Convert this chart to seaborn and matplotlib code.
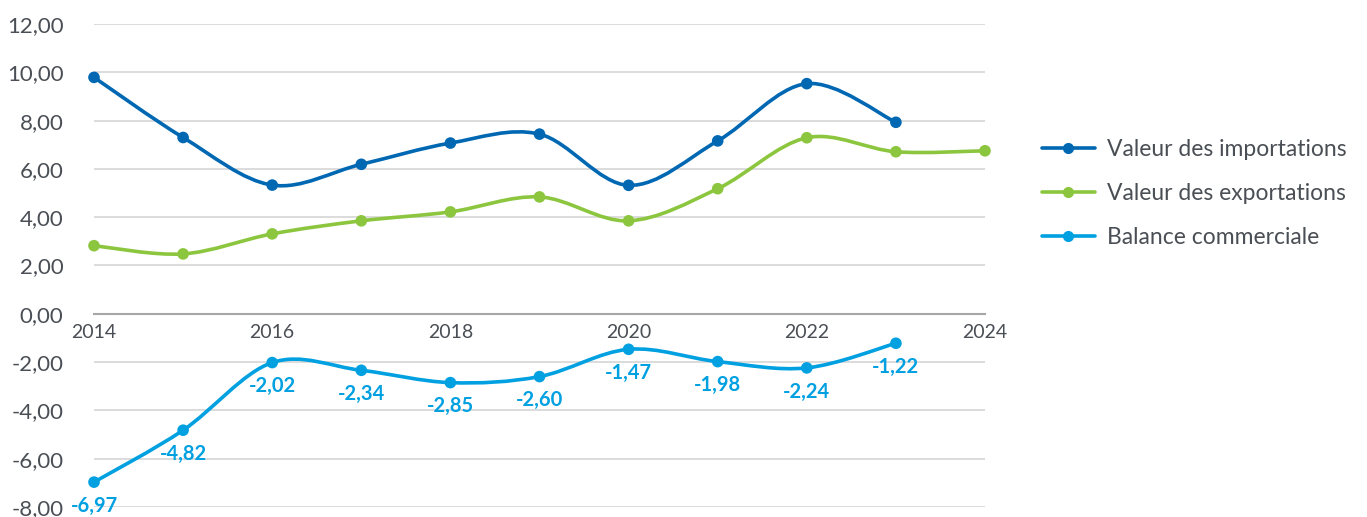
import numpy as np
import pandas as pd
import matplotlib
matplotlib.use("Agg")
import matplotlib.pyplot as plt
from matplotlib.path import Path
from matplotlib.patches import PathPatch
from matplotlib.lines import Line2D
import seaborn as sns

# données (milliards)
years_imp = [2014, 2015, 2016, 2017, 2018, 2019, 2020, 2021, 2022, 2023]
importations = [9.79, 7.30, 5.33, 6.19, 7.07, 7.44, 5.32, 7.16, 9.53, 7.93]
years_exp = [2014, 2015, 2016, 2017, 2018, 2019, 2020, 2021, 2022, 2023, 2024]
exportations = [2.82, 2.48, 3.31, 3.85, 4.22, 4.84, 3.85, 5.18, 7.29, 6.71, 6.75]
years_bal = [2014, 2015, 2016, 2017, 2018, 2019, 2020, 2021, 2022, 2023]
balance = [-6.97, -4.82, -2.02, -2.34, -2.85, -2.60, -1.47, -1.98, -2.24, -1.22]

series_names = ["Valeur des importations", "Valeur des exportations", "Balance commerciale"]
colors = ["#0068b3", "#8cc63f", "#00a0e1"]
y_ticks = [-8, -6, -4, -2, 0, 2, 4, 6, 8, 10, 12]
x_ticks = [2014, 2016, 2018, 2020, 2022, 2024]

sns.set_style("white")
plt.rcParams["font.family"] = ["Lato", "DejaVu Sans"]
text_grey = "#4a4f55"


def smooth_path(x, y):
    # courbe lissée façon Excel (Bézier type Catmull-Rom)
    pts = np.column_stack([x, y]).astype(float)
    verts = [pts[0]]
    codes = [Path.MOVETO]
    n = len(pts)
    for i in range(n - 1):
        p0 = pts[i - 1] if i > 0 else pts[i]
        p1 = pts[i]
        p2 = pts[i + 1]
        p3 = pts[i + 2] if i + 2 < n else pts[i + 1]
        c1 = p1 + (p2 - p0) / 6
        c2 = p2 - (p3 - p1) / 6
        verts += [c1, c2, p2]
        codes += [Path.CURVE4] * 3
    return Path(verts, codes)


fig = plt.figure(figsize=(13.67, 5.17), dpi=100)
ax = fig.add_axes([94 / 1367, 10 / 517, (985 - 94) / 1367, (507 - 24) / 517])

df = pd.concat([
    pd.DataFrame({"annee": years_imp, "valeur": importations, "serie": series_names[0]}),
    pd.DataFrame({"annee": years_exp, "valeur": exportations, "serie": series_names[1]}),
    pd.DataFrame({"annee": years_bal, "valeur": balance, "serie": series_names[2]}),
])

for name, col in zip(series_names, colors):
    d = df[df["serie"] == name]
    ax.add_patch(PathPatch(smooth_path(d["annee"], d["valeur"]), fill=False,
                           edgecolor=col, lw=2.6, zorder=3, clip_on=False))

sns.scatterplot(data=df, x="annee", y="valeur", hue="serie", palette=colors,
                s=70, edgecolor="none", legend=False, zorder=4, clip_on=False, ax=ax)

for x, v in zip(years_bal, balance):
    ax.annotate(f"{v:.2f}".replace(".", ","), (x, v), xytext=(0, -17),
                textcoords="offset points", ha="center", va="center",
                fontsize=14.5, fontweight="bold", color=colors[2])

ax.set_xlim(2014, 2024)
ax.set_ylim(-8, 12)
ax.set_yticks(y_ticks)
ax.set_yticklabels([f"{t:.2f}".replace(".", ",") for t in y_ticks])
ax.set_xticks(x_ticks)
ax.set_xticklabels([str(t) for t in x_ticks])
ax.grid(axis="y", color="#d9d9d9", lw=1.3)
ax.set_axisbelow(True)
for s in ["top", "right", "left"]:
    ax.spines[s].set_visible(False)
ax.spines["bottom"].set_position(("data", 0))
ax.spines["bottom"].set_color("#a6a6a6")
ax.spines["bottom"].set_linewidth(1.5)
ax.tick_params(axis="y", length=0, pad=22, labelsize=16, labelcolor=text_grey)
ax.tick_params(axis="x", length=0, pad=7, labelsize=14, labelcolor=text_grey)
ax.set_xlabel("")
ax.set_ylabel("")

handles = [Line2D([0], [0], color=c, lw=2.6, marker="o", markersize=7) for c in colors]
fig.legend(handles, series_names, loc="upper left", bbox_to_anchor=(1042 / 1367, 1 - 139 / 517),
           frameon=False, fontsize=16.5, labelcolor=text_grey, handlelength=2.3,
           handletextpad=0.55, labelspacing=1.0, borderpad=0, borderaxespad=0)

fig.savefig("out.png", dpi=100)
